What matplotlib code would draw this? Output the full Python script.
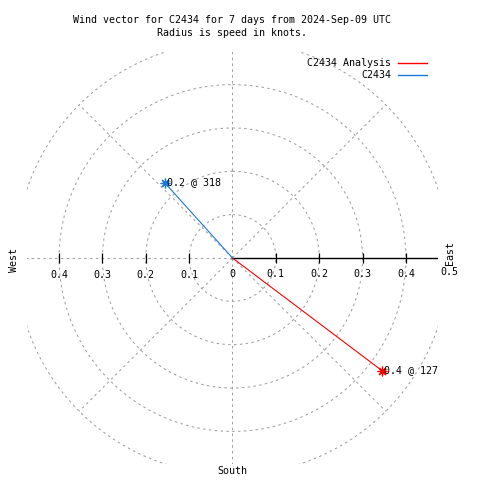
import numpy as np
import matplotlib
matplotlib.use('Agg')
import matplotlib.pyplot as plt
from matplotlib.lines import Line2D

title_line1 = "Wind vector for C2434 for 7 days from 2024-Sep-09 UTC"
title_line2 = "Radius is speed in knots."
series_names = ["C2434 Analysis", "C2434"]
series_colors = ["#ff0000", "#1e78dc"]
speeds = [0.433, 0.233]        # knots
directions = [127, 318]        # degrees (compass)
ring_radii = [0.1, 0.2, 0.3, 0.4, 0.5]
spoke_angles = [0, 45, 90, 135, 180, 225, 270, 315]
axis_ticks_left = [-0.4, -0.3, -0.2, -0.1]
axis_ticks_right = [0.0, 0.1, 0.2, 0.3, 0.4]
axis_tick_end = [0.5]
rmax = 0.5

plt.rcParams['font.family'] = ['DejaVu Sans Mono']
plt.rcParams['font.size'] = 7.2
plt.rcParams['lines.scale_dashes'] = False

W = H = 480
fig = plt.figure(figsize=(4.8, 4.8), dpi=100)
lim = 0.475
ax = fig.add_axes([26.6 / W, (H - 463.9) / H, 411.8 / W, 411.8 / H])
ax.set_xlim(-lim, lim)
ax.set_ylim(-lim, lim)
ax.set_aspect('equal')
ax.axis('off')

grid_kw = dict(color='#a0a0a0', lw=0.75, ls=(0, (1.8, 2.4)))
th = np.linspace(0, 2 * np.pi, 721)
for r in ring_radii:
    ax.plot(r * np.sin(th), r * np.cos(th), **grid_kw)
for a in spoke_angles:
    t = np.deg2rad(a)
    ax.plot([0, rmax * np.sin(t)], [0, rmax * np.cos(t)], **grid_kw)

# solid radial axis to the east with ticks
ax.plot([0, rmax], [0, 0], color='black', lw=1.0)
tick_x = [v for v in axis_ticks_left + axis_ticks_right if v != 0]
ax.plot(tick_x, [0] * len(tick_x), ls='none', marker='|', ms=7, mew=0.9,
        color='black')

def fmt(v):
    return "0" if abs(v) < 1e-9 else f"{abs(v):.1f}"

for v in axis_ticks_left:
    ax.annotate(fmt(v), xy=(v, 0), xytext=(0, -17.5 * 0.72),
                textcoords='offset points', ha='center', va='center')
for v in axis_ticks_right:
    ax.annotate(fmt(v), xy=(v, 0), xytext=(0, -16 * 0.72),
                textcoords='offset points', ha='center', va='center')
for v in axis_tick_end:
    ax.annotate(fmt(v), xy=(v, 0), xytext=(0, -14 * 0.72),
                textcoords='offset points', ha='center', va='center',
                annotation_clip=False)

# vectors
for name, col, s, d in zip(series_names, series_colors, speeds, directions):
    t = np.deg2rad(d)
    x, y = s * np.sin(t), s * np.cos(t)
    ax.plot([0, x], [0, y], color=col, lw=0.8)
    ax.plot([x], [y], ls='none', marker=(8, 2, 0), ms=7, mew=0.9,
            color=col)
    ax.annotate(f"{s:.1f} @ {d}", xy=(x, y), xytext=(1.2, 0.6),
                textcoords='offset points', ha='left', va='center')

def fx(px):
    return px / W

def fy(py):
    return 1 - py / H

fig.text(fx(232), fy(20), title_line1, ha='center', va='center')
fig.text(fx(232), fy(33), title_line2, ha='center', va='center')
fig.text(fx(14), fy(260), "West", rotation=90, ha='center', va='center')
fig.text(fx(450), fy(253), "East", rotation=90, ha='center', va='center')
fig.text(fx(232), fy(471), "South", ha='center', va='center')

# legend
for i, (name, col) in enumerate(zip(series_names, series_colors)):
    yy = 62.7 + 12.5 * i
    fig.text(fx(391), fy(yy), name, ha='right', va='center')
    fig.add_artist(Line2D([fx(398), fx(427)], [fy(yy), fy(yy)], color=col,
                          lw=1.0, transform=fig.transFigure))

fig.savefig('out.png', dpi=100)
